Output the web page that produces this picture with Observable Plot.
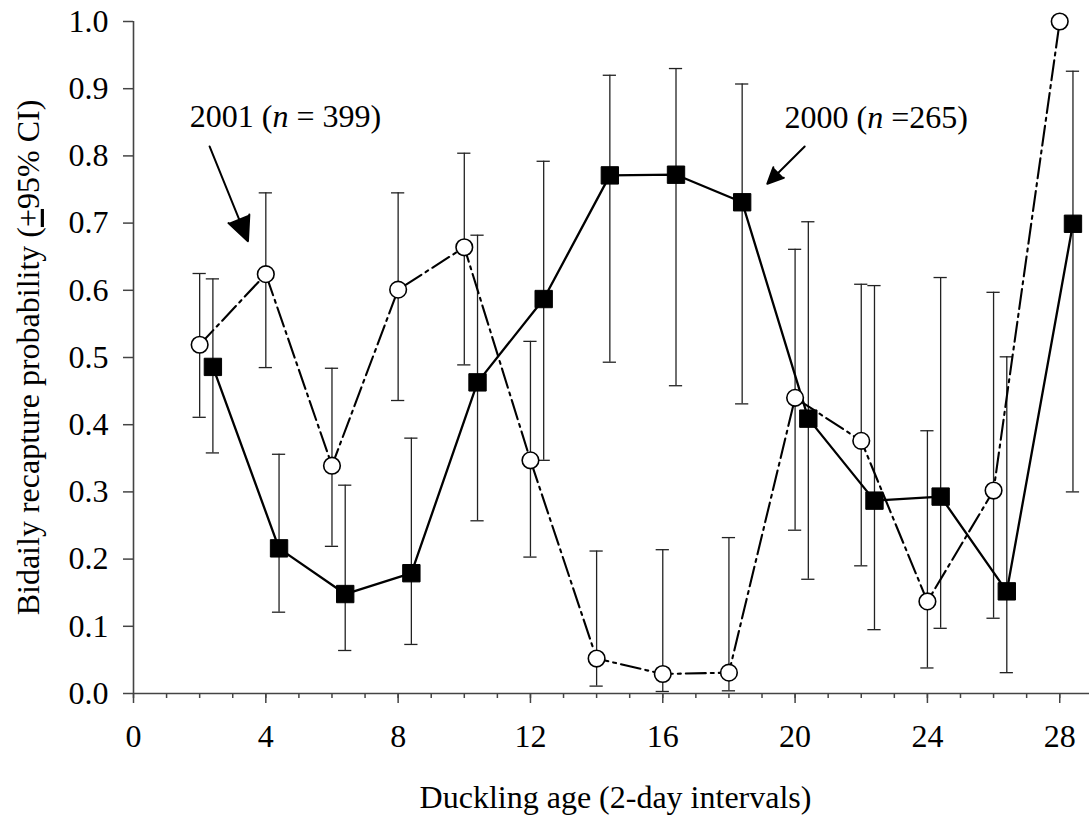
<!DOCTYPE html>
<html><head><meta charset="utf-8">
<script src="https://cdn.jsdelivr.net/npm/d3@7"></script>
<script src="https://cdn.jsdelivr.net/npm/@observablehq/plot@0.6"></script>
<style>
html,body{margin:0;padding:0;background:#fff;}
#chart svg{display:block;}
</style>
</head><body><div id="chart"></div>
<script>
// ---- data ----
const ages = [2, 4, 6, 8, 10, 12, 14, 16, 18, 20, 22, 24, 26, 28];

// 2001 (n = 399) open circles
const p2001  = [0.519, 0.624, 0.339, 0.601, 0.664, 0.347, 0.052, 0.029, 0.031, 0.440, 0.376, 0.137, 0.302, 1.000];
const lo2001 = [0.411, 0.485, 0.219, 0.436, 0.489, 0.203, 0.011, 0.003, 0.004, 0.243, 0.190, 0.038, 0.112, null];
const hi2001 = [0.625, 0.745, 0.484, 0.745, 0.804, 0.524, 0.212, 0.214, 0.232, 0.661, 0.609, 0.391, 0.597, null];

// 2000 (n = 265) filled squares
const p2000  = [0.486, 0.216, 0.148, 0.179, 0.463, 0.587, 0.771, 0.772, 0.731, 0.409, 0.287, 0.293, 0.152, 0.699];
const lo2000 = [0.358, 0.121, 0.064, 0.073, 0.257, 0.347, 0.493, 0.458, 0.431, 0.170, 0.095, 0.097, 0.031, 0.300];
const hi2000 = [0.617, 0.356, 0.310, 0.380, 0.682, 0.792, 0.920, 0.930, 0.907, 0.702, 0.607, 0.619, 0.501, 0.926];

const xMajorTicks = [0, 4, 8, 12, 16, 20, 24, 28];
const xMinorTicks = d3.range(0, 29, 1);
const yTicks = [0, 0.1, 0.2, 0.3, 0.4, 0.5, 0.6, 0.7, 0.8, 0.9, 1.0];

const xTitle = "Duckling age (2-day intervals)";
const yTitle = "Bidaily recapture probability (+95% CI)";

const notes = [
  {x: 1.70, y: 0.858, pre: "2001 (", it: "n", post: " = 399)"},
  {x: 19.68, y: 0.857, pre: "2000 (", it: "n", post: " =265)"}
];
const pointers = [
  {x1: 2.30, y1: 0.814, x2: 3.46, y2: 0.673},
  {x1: 20.29, y1: 0.814, x2: 19.16, y2: 0.7585}
];

// ---- build ----
const shift2000 = 0.4;   // 2000 series plotted slightly right of its age class
const capHalf = 0.2;

const rows2001 = ages.map((a, i) => ({x: a, p: p2001[i], lo: lo2001[i], hi: hi2001[i]}));
const rows2000 = ages.map((a, i) => ({x: a + shift2000, p: p2000[i], lo: lo2000[i], hi: hi2000[i]}));
const bars = [...rows2001, ...rows2000].filter(d => d.lo != null);
const caps = bars.flatMap(d => [{x: d.x, y: d.lo}, {x: d.x, y: d.hi}]);

const axisColor = "#444";
const barColor = "#222";
const font = "Liberation Serif";
const fs = 32;

const chart = Plot.plot({
  width: 1089,
  height: 819,
  marginLeft: 133,
  marginRight: 0,
  marginTop: 21,
  marginBottom: 126,
  x: {domain: [0, 28.9]},
  y: {domain: [0, 1]},
  style: {fontFamily: font, fontSize: fs + "px", color: "#000", background: "#fff"},
  marks: [
    Plot.ruleX(bars, {x: "x", y1: "lo", y2: "hi", stroke: barColor, strokeWidth: 1.3}),
    Plot.ruleY(caps, {y: "y", x1: d => d.x - capHalf, x2: d => d.x + capHalf, stroke: barColor, strokeWidth: 1.3}),
    Plot.line(rows2001, {x: "x", y: "p", stroke: "#000", strokeWidth: 2.1, strokeDasharray: "20,5,3,5"}),
    Plot.line(rows2000, {x: "x", y: "p", stroke: "#000", strokeWidth: 2.3}),
    Plot.dot(rows2001, {x: "x", y: "p", r: 8.3, fill: "#fff", stroke: "#000", strokeWidth: 1.6}),
    Plot.dot(rows2000, {x: "x", y: "p", r: 9.8, symbol: "square", fill: "#000", stroke: "#000", strokeWidth: 1, strokeLinejoin: "round"}),
    Plot.axisY({ticks: yTicks, tickFormat: d3.format(".1f"), tickSize: 10, tickPadding: 15, label: null, stroke: axisColor, strokeWidth: 1.5, fontSize: fs, fontFamily: font, fill: "#000"}),
    Plot.axisX({ticks: xMinorTicks, tickFormat: () => "", tickSize: 5, label: null, stroke: axisColor, strokeWidth: 1.5}),
    Plot.axisX({ticks: xMajorTicks, tickSize: 10, tickPadding: 21, label: null, stroke: axisColor, strokeWidth: 1.5, fontSize: fs, fontFamily: font, fill: "#000"}),
    Plot.ruleX([0], {stroke: axisColor, strokeWidth: 1.6}),
    Plot.ruleY([0], {stroke: axisColor, strokeWidth: 1.6}),
    Plot.text([xTitle], {frameAnchor: "bottom", dy: 104, dx: 4, lineAnchor: "middle", fill: "#000", fontSize: fs, fontFamily: font}),
    Plot.text([yTitle], {frameAnchor: "left", dx: -105, rotate: -90, textAnchor: "middle", lineAnchor: "middle", fill: "#000", fontSize: fs, fontFamily: font, ariaLabel: () => "ytitle"}),
    Plot.text(notes, {x: "x", y: "y", text: d => d.pre + d.it + d.post, textAnchor: "start", lineAnchor: "middle", fill: "#000", fontSize: fs, fontFamily: font, ariaLabel: () => "note"}),
    Plot.arrow(pointers, {x1: "x1", y1: "y1", x2: "x2", y2: "y2", stroke: "#000", fill: "#000", strokeWidth: 2, headAngle: 50, headLength: 20, strokeLinejoin: "miter"})
  ]
});

document.getElementById("chart").appendChild(chart);

// ---- post-process: italic n, underlined plus ----
const svg = d3.select(chart);
svg.selectAll('text[aria-label="note"]').each(function(_, i) {
  const n = notes[i];
  const t = d3.select(this);
  t.text(null);
  t.append("tspan").text(n.pre);
  t.append("tspan").attr("font-style", "italic").text(n.it);
  t.append("tspan").text(n.post);
});

svg.selectAll('text[aria-label="ytitle"]').each(function() {
  const t = d3.select(this);
  const s = t.text();
  const k = s.indexOf("+");
  t.text(null);
  t.append("tspan").text(s.slice(0, k));
  t.append("tspan").attr("text-decoration", "underline").text("+");
  t.append("tspan").text(s.slice(k + 1));
});
</script>
</body></html>
